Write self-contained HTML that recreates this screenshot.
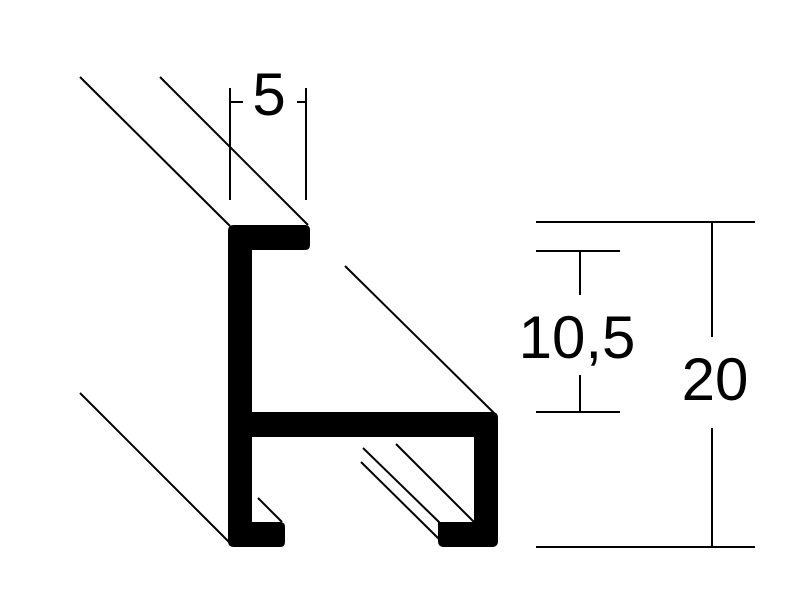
<!DOCTYPE html>
<html><head><style>html,body{margin:0;padding:0;background:#fff;width:795px;height:591px;overflow:hidden}</style></head>
<body>
<svg width="795" height="591" viewBox="0 0 795 591" xmlns="http://www.w3.org/2000/svg">
<g stroke="#000" stroke-width="2" fill="none">
<line x1="80" y1="77" x2="230" y2="226"/>
<line x1="160" y1="77" x2="308" y2="225"/>
<line x1="345" y1="266" x2="494" y2="413"/>
<line x1="80" y1="393" x2="230" y2="543"/>
<line x1="258" y1="498" x2="282" y2="522"/>
<line x1="361" y1="462" x2="440" y2="540"/>
<line x1="363" y1="448" x2="440" y2="523"/>
<line x1="396" y1="444" x2="475" y2="523"/>
<line x1="230" y1="88" x2="230" y2="200"/>
<line x1="306" y1="88" x2="306" y2="200"/>
<line x1="230" y1="102" x2="243" y2="102"/>
<line x1="297" y1="102" x2="306" y2="102"/>
<line x1="536" y1="222" x2="755" y2="222"/>
<line x1="536" y1="547" x2="755" y2="547"/>
<line x1="712" y1="222" x2="712" y2="337"/>
<line x1="712" y1="428" x2="712" y2="547"/>
<line x1="536" y1="251" x2="620" y2="251"/>
<line x1="536" y1="412" x2="620" y2="412"/>
<line x1="580" y1="251" x2="580" y2="295"/>
<line x1="580" y1="375" x2="580" y2="412"/>
</g>
<path fill="#000" d="M234,225 H305 Q310,225 310,230 V245 Q310,250 305,250 H252 V412 H492 Q498,412 498,418 V541 Q498,547 492,547 H444 Q438,547 438,541 V522 H474 V437 H252 V522 H280 Q285,522 285,527 V542 Q285,547 280,547 H234 Q228,547 228,541 V231 Q228,225 234,225 Z"/>
<g font-family="Liberation Sans, sans-serif" fill="#000">
<text x="269" y="115" font-size="60" text-anchor="middle">5</text>
<text x="577" y="358" font-size="60" text-anchor="middle">10,5</text>
<text x="715" y="400" font-size="60" text-anchor="middle">20</text>
</g>
</svg>
</body></html>
